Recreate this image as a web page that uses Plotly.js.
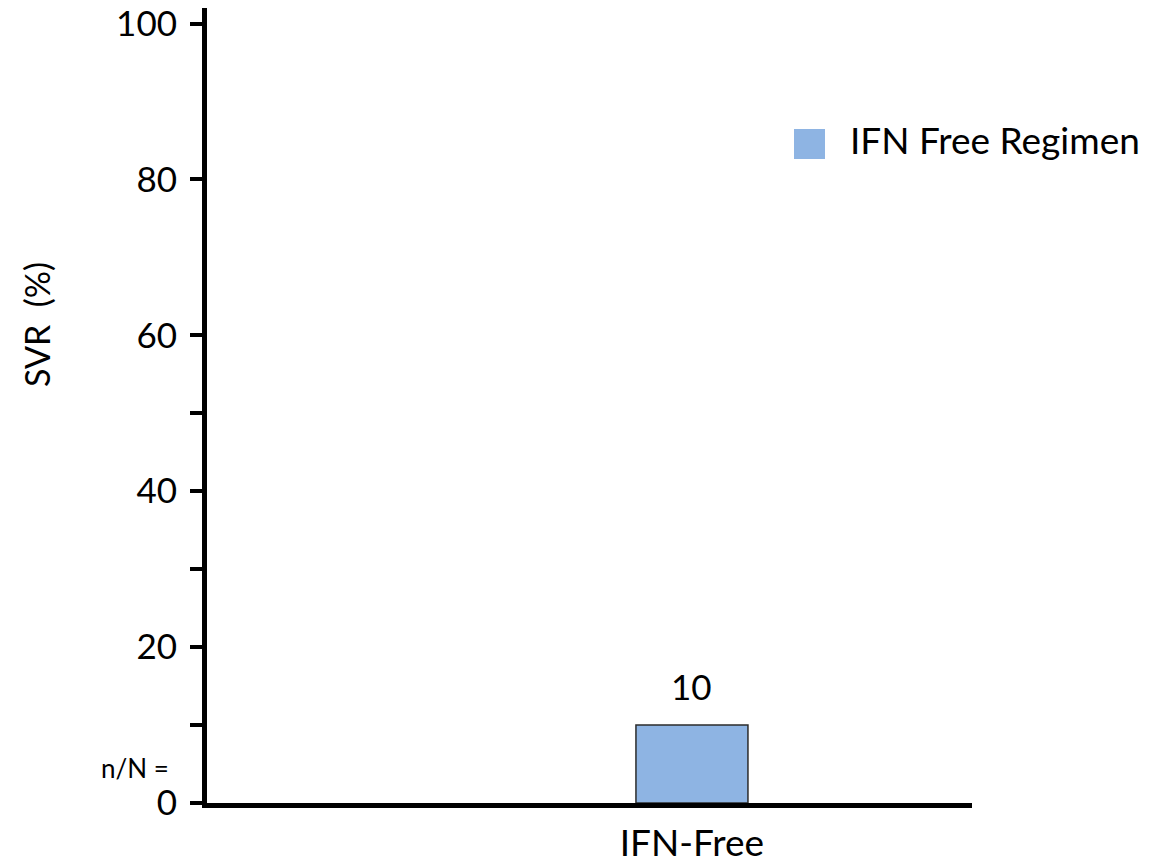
<!DOCTYPE html>
<html>
<head>
<meta charset="utf-8">
<script src="https://cdn.plot.ly/plotly-3.0.1.min.js"></script>
<style>
  html, body { margin: 0; padding: 0; background: #fff; }
  #chart { width: 1157px; height: 867px; }
</style>
</head>
<body>
<div id="chart"></div>
<script>
// SVR by regimen
const categories = ["IFN-Free"];
const svrValues = [10];
const seriesName = "IFN Free Regimen";
const yTitle = "SVR  (%)";
const majorTicks = [0, 20, 40, 60, 80, 100];
const majorTickLabels = ["0", "20", "40", "60", "80", "100"];
const minorTicks = [10, 30, 50];

const FONT = "Lato, 'Open Sans', 'DejaVu Sans', sans-serif";
const barColor = "#8EB4E3";

const trace = {
  type: "bar",
  x: categories,
  y: svrValues,
  name: seriesName,
  width: 0.41,
  marker: { color: barColor, line: { color: "#2b2b2b", width: 1.5 } },
  showlegend: false,
  hoverinfo: "skip"
};

// value labels above each bar
const valueLabels = categories.map((c, i) => ({
  x: c, y: svrValues[i], xref: "x", yref: "y",
  text: String(svrValues[i]),
  showarrow: false, yanchor: "bottom", yshift: 16,
  font: { family: FONT, size: 35, color: "#000" }
}));

const layout = {
  width: 1157, height: 867,
  margin: { l: 207, r: 185, t: 8, b: 64 },
  paper_bgcolor: "#fff", plot_bgcolor: "#fff",
  font: { family: FONT, color: "#000" },
  xaxis: {
    type: "category",
    range: [-1.775, 1.025],
    showline: true, linecolor: "#000", linewidth: 5,
    showgrid: false, zeroline: false,
    ticks: "", tickfont: { family: FONT, size: 37, color: "#000" },
    ticklabelstandoff: 4
  },
  yaxis: {
    range: [0, 102],
    showline: true, linecolor: "#000", linewidth: 5,
    showgrid: false, zeroline: false,
    tickmode: "array", tickvals: majorTicks, ticktext: majorTickLabels,
    ticks: "outside", ticklen: 12, tickwidth: 4, tickcolor: "#000",
    tickfont: { family: FONT, size: 35, color: "#000" },
    ticklabelstandoff: 6,
    minor: { tickmode: "array", tickvals: minorTicks, ticks: "outside", ticklen: 12, tickwidth: 4, tickcolor: "#000", showgrid: false }
  },
  shapes: [
    // legend swatch
    { type: "rect", xref: "paper", yref: "paper",
      x0: (794 - 207) / 765, x1: (825 - 207) / 765,
      y0: (803 - 159) / 795, y1: (803 - 129) / 795,
      fillcolor: barColor, line: { width: 0 } }
  ],
  annotations: valueLabels.concat([
    // legend text
    { xref: "paper", yref: "paper", x: (848 - 207) / 765, y: (803 - 140) / 795,
      xanchor: "left", yanchor: "middle", showarrow: false,
      text: seriesName, font: { family: FONT, size: 37, color: "#000" } },
    // y-axis title
    { xref: "paper", yref: "paper", x: (36 - 207) / 765, y: (803 - 325) / 795,
      xanchor: "center", yanchor: "middle", showarrow: false, textangle: -90,
      text: yTitle, font: { family: FONT, size: 34, color: "#000" } },
    { xref: "paper", yref: "paper", x: (135 - 207) / 765, y: (803 - 768) / 795,
      xanchor: "center", yanchor: "middle", showarrow: false,
      text: "n/N =", font: { family: FONT, size: 26, color: "#000" } }
  ])
};

Plotly.newPlot("chart", [trace], layout, { displayModeBar: false, staticPlot: true });
</script>
</body>
</html>
